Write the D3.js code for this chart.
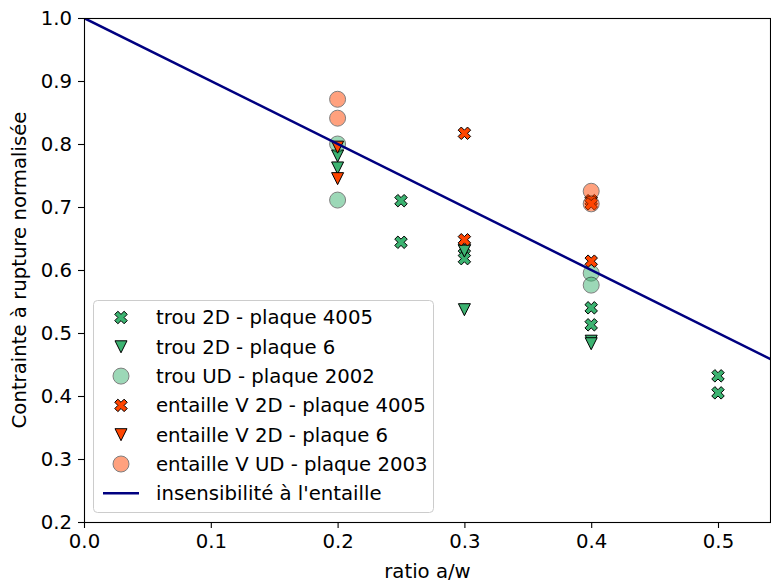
<!DOCTYPE html>
<html><head><meta charset="utf-8">
<script src="https://cdn.jsdelivr.net/npm/d3@7"></script>
<style>body{margin:0;background:#fff}svg{display:block;font-family:"DejaVu Sans",sans-serif}</style>
</head><body>
<script>
const xTicks = [0.0, 0.1, 0.2, 0.3, 0.4, 0.5];
const yTicks = [0.2, 0.3, 0.4, 0.5, 0.6, 0.7, 0.8, 0.9, 1.0];

const trou2D_4005_x = [0.25, 0.25, 0.3, 0.3, 0.4, 0.4, 0.5, 0.5];
const trou2D_4005_y = [0.710, 0.644, 0.635, 0.618, 0.540, 0.513, 0.432, 0.405];
const trou2D_6_x = [0.2, 0.2, 0.3, 0.3, 0.4, 0.4];
const trou2D_6_y = [0.781, 0.762, 0.630, 0.537, 0.487, 0.483];
const trouUD_2002_x = [0.2, 0.2, 0.4, 0.4];
const trouUD_2002_y = [0.800, 0.711, 0.595, 0.576];
const entV2D_4005_x = [0.3, 0.3, 0.4, 0.4, 0.4];
const entV2D_4005_y = [0.817, 0.648, 0.710, 0.705, 0.614];
const entV2D_6_x = [0.2, 0.2];
const entV2D_6_y = [0.795, 0.745];
const entVUD_2003_x = [0.2, 0.2, 0.4, 0.4];
const entVUD_2003_y = [0.871, 0.841, 0.725, 0.705];
const lineX = [0.0, 0.6];
const lineY = [1.0, 0.4];

const seriesNames = ["trou 2D - plaque 4005", "trou 2D - plaque 6", "trou UD - plaque 2002",
  "entaille V 2D - plaque 4005", "entaille V 2D - plaque 6", "entaille V UD - plaque 2003"];
const lineName = "insensibilité à l'entaille";

const W = 771, H = 583;
const L = 84, T = 18, R = 771, B = 522;
const GREEN = "#3cb371", RED = "#ff4500", NAVY = "#000080";

const svg = d3.select("body").append("svg").attr("width", W).attr("height", H);
const x = d3.scaleLinear().domain([0, (R - L) / 1268]).range([L, R]);
const y = d3.scaleLinear().domain([0.2, 1.0]).range([B, T]);

const defs = svg.append("defs");
defs.append("clipPath").attr("id", "clip").append("rect")
  .attr("x", L).attr("y", T).attr("width", R - L).attr("height", B - T);

function xPath(s) {
  const p = [[0.25,0],[0.5,0.25],[0.25,0.5],[0,0.25],[-0.25,0.5],[-0.5,0.25],[-0.25,0],[-0.5,-0.25],[-0.25,-0.5],[0,-0.25],[0.25,-0.5],[0.5,-0.25]];
  return "M" + p.map(d => (d[0]*s).toFixed(2) + "," + (d[1]*s).toFixed(2)).join("L") + "Z";
}
function triPath(s) {
  const h = s / 2;
  return `M0,${h}L${-h},${-h}L${h},${-h}Z`;
}
const XS = 12.5, TS = 12;

function drawMarker(g, type, color, cx, cy) {
  if (type === "x") {
    g.append("path").attr("d", xPath(XS)).attr("transform", `translate(${cx},${cy})`)
      .attr("fill", color).attr("stroke", "#000").attr("stroke-width", 1);
  } else if (type === "tri") {
    g.append("path").attr("d", triPath(TS)).attr("transform", `translate(${cx},${cy})`)
      .attr("fill", color).attr("stroke", "#000").attr("stroke-width", 1);
  } else {
    g.append("circle").attr("cx", cx).attr("cy", cy).attr("r", 8)
      .attr("fill", color).attr("stroke", "#000").attr("stroke-width", 1).attr("opacity", 0.5);
  }
}

const series = [
  {xs: trou2D_4005_x, ys: trou2D_4005_y, type: "x", color: GREEN},
  {xs: trou2D_6_x, ys: trou2D_6_y, type: "tri", color: GREEN},
  {xs: trouUD_2002_x, ys: trouUD_2002_y, type: "c", color: GREEN},
  {xs: entV2D_4005_x, ys: entV2D_4005_y, type: "x", color: RED},
  {xs: entV2D_6_x, ys: entV2D_6_y, type: "tri", color: RED},
  {xs: entVUD_2003_x, ys: entVUD_2003_y, type: "c", color: RED},
];

const plot = svg.append("g");
series.forEach(s => {
  const g = plot.append("g");
  s.xs.forEach((xv, i) => drawMarker(g, s.type, s.color, x(xv), y(s.ys[i])));
});

plot.append("path").attr("clip-path", "url(#clip)")
  .attr("d", d3.line().x(d => x(d[0])).y(d => y(d[1]))(lineX.map((v, i) => [v, lineY[i]])))
  .attr("fill", "none").attr("stroke", NAVY).attr("stroke-width", 2.5);

const fs = 19.7;
const xAxis = svg.append("g").attr("transform", `translate(0,${B})`)
  .call(d3.axisBottom(x).tickValues(xTicks).tickFormat(d3.format(".1f")).tickSize(6).tickPadding(6));
const yAxis = svg.append("g").attr("transform", `translate(${L},0)`)
  .call(d3.axisLeft(y).tickValues(yTicks).tickFormat(d3.format(".1f")).tickSize(6).tickPadding(6));
[xAxis, yAxis].forEach(a => {
  a.select(".domain").remove();
  a.selectAll("line").attr("stroke", "#000").attr("stroke-width", 1.1);
  a.selectAll("text").attr("font-size", fs).attr("fill", "#000").attr("font-family", "DejaVu Sans");
});
svg.append("rect").attr("x", L + 0.5).attr("y", T + 0.5).attr("width", R - L - 1).attr("height", B - T)
  .attr("fill", "none").attr("stroke", "#000").attr("stroke-width", 1.1);

svg.append("text").attr("x", (L + R) / 2).attr("y", 578).attr("text-anchor", "middle")
  .attr("font-size", fs).text("ratio a/w");
svg.append("text").attr("transform", `translate(26,${(T + B) / 2}) rotate(-90)`).attr("text-anchor", "middle")
  .attr("font-size", fs).text("Contrainte à rupture normalisée");

const lg = svg.append("g");
lg.append("rect").attr("x", 93.5).attr("y", 300.5).attr("width", 340).attr("height", 212).attr("rx", 4)
  .attr("fill", "#fff").attr("fill-opacity", 0.8).attr("stroke", "#cccccc").attr("stroke-width", 1);
const rowY0 = 317.5, rowDY = 29.3;
series.forEach((s, i) => {
  const cy = rowY0 + i * rowDY;
  drawMarker(lg, s.type, s.color, 121, cy);
  lg.append("text").attr("x", 156).attr("y", cy).attr("dy", "0.35em").attr("font-size", fs).text(seriesNames[i]);
});
{
  const cy = rowY0 + 6 * rowDY;
  lg.append("line").attr("x1", 103).attr("x2", 139).attr("y1", cy).attr("y2", cy)
    .attr("stroke", NAVY).attr("stroke-width", 2.5);
  lg.append("text").attr("x", 156).attr("y", cy).attr("dy", "0.35em").attr("font-size", fs).text(lineName);
}
</script>
</body></html>
